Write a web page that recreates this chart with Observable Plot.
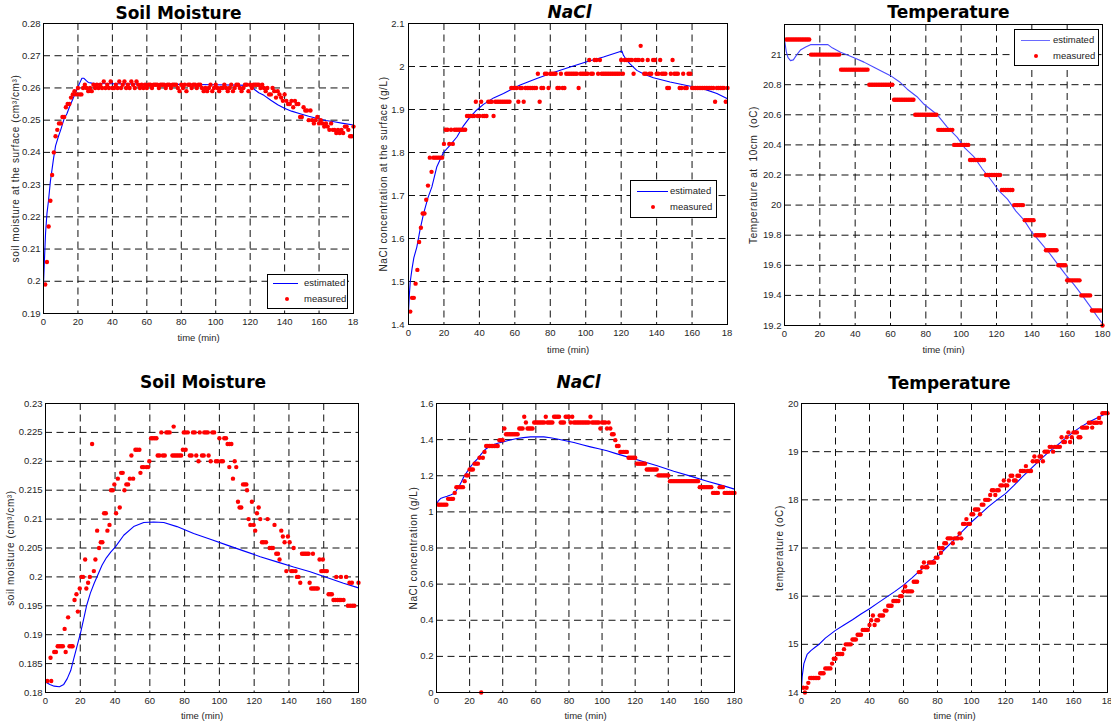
<!DOCTYPE html>
<html><head><meta charset="utf-8">
<script src="https://cdn.jsdelivr.net/npm/d3@7"></script>
<script src="https://cdn.jsdelivr.net/npm/@observablehq/plot@0.6"></script>
<style>
html,body{margin:0;padding:0;background:#fff;}
#root{position:relative;width:1111px;height:727px;overflow:hidden;background:#fff;font-family:"Liberation Sans",Arial,sans-serif;}
.pan{position:absolute;}
.pan svg{display:block;max-width:none;overflow:visible;}
.leg{position:absolute;box-sizing:border-box;border:1.5px solid #000;background:#fff;font-size:9.5px;color:#222;}
.leg .ln{position:absolute;height:1px;}
.leg .dt{position:absolute;width:4.6px;height:4.6px;border-radius:50%;background:#f00;}
.leg .tx{position:absolute;line-height:10px;white-space:nowrap;}
</style></head>
<body><div id="root"></div>
<script>
// ---------- shared axis values ----------
const minutes = [
1,2,3,4,5,6,7,8,9,10,11,12,13,14,15,16,17,18,19,20,
21,22,23,24,25,26,27,28,29,30,31,32,33,34,35,36,37,38,39,40,
41,42,43,44,45,46,47,48,49,50,51,52,53,54,55,56,57,58,59,60,
61,62,63,64,65,66,67,68,69,70,71,72,73,74,75,76,77,78,79,80,
81,82,83,84,85,86,87,88,89,90,91,92,93,94,95,96,97,98,99,100,
101,102,103,104,105,106,107,108,109,110,111,112,113,114,115,116,117,118,119,120,
121,122,123,124,125,126,127,128,129,130,131,132,133,134,135,136,137,138,139,140,
141,142,143,144,145,146,147,148,149,150,151,152,153,154,155,156,157,158,159,160,
161,162,163,164,165,166,167,168,169,170,171,172,173,174,175,176,177,178,179,180];
const timeTicks = [0,20,40,60,80,100,120,140,160,180];
const truncatedLastTick = "18"; // the last time label reads "18" in panels cut at the right

// ---------- top-left: soil moisture ----------
const soilTopTicks = [0.19,0.2,0.21,0.22,0.23,0.24,0.25,0.26,0.27,0.28];
const soilTopMeasured = [
0.199,0.206,0.217,0.225,0.233,0.240,0.245,0.247,0.249,0.249,
0.251,0.251,0.254,0.255,0.255,0.257,0.258,0.259,0.258,0.260,
0.258,0.258,0.260,0.261,0.260,0.259,0.260,0.259,0.261,0.260,
0.261,0.260,0.261,0.260,0.262,0.260,0.261,0.260,0.262,0.260,
0.260,0.261,0.260,0.262,0.260,0.261,0.262,0.260,0.261,0.260,
0.262,0.261,0.260,0.262,0.261,0.260,0.261,0.260,0.261,0.260,
0.261,0.261,0.260,0.261,0.261,0.261,0.260,0.261,0.261,0.261,
0.260,0.261,0.261,0.260,0.261,0.261,0.261,0.260,0.259,0.261,
0.260,0.261,0.259,0.261,0.261,0.260,0.261,0.261,0.260,0.261,
0.261,0.260,0.259,0.260,0.259,0.260,0.261,0.259,0.260,0.261,
0.260,0.259,0.260,0.260,0.261,0.260,0.259,0.260,0.261,0.259,
0.260,0.261,0.261,0.260,0.259,0.260,0.261,0.261,0.259,0.261,
0.260,0.261,0.261,0.261,0.261,0.260,0.261,0.260,0.259,0.260,
0.258,0.258,0.260,0.259,0.257,0.259,0.258,0.257,0.256,0.258,
0.256,0.255,0.255,0.256,0.254,0.256,0.255,0.255,0.251,0.251,
0.254,0.253,0.253,0.250,0.253,0.250,0.249,0.250,0.251,0.249,
0.250,0.249,0.248,0.249,0.248,0.247,0.249,0.247,0.247,0.246,
0.247,0.246,0.247,0.246,0.248,0.248,0.247,0.245,0.245,0.248];
const soilTopEstimated = [
[0,0.199],[0.5,0.206],[1.2,0.215],[2,0.221],[2.9,0.225],[4,0.231],[5.8,0.238],[7,0.242],[8.7,0.245],[10,0.247],
[12,0.2505],[13.6,0.252],[15,0.254],[17,0.2565],[19.4,0.2595],[21,0.2615],[22.3,0.263],[23.5,0.263],[25,0.2622],[26,0.2617],
[28,0.2615],[30,0.2614],[40,0.2613],[60,0.2612],[80,0.2611],[100,0.261],[120,0.2608],[121,0.2606],[122.5,0.2595],[125,0.2585],
[128,0.2577],[132,0.2562],[136,0.2548],[139.6,0.2538],[144,0.2528],[149,0.252],[154,0.2512],[159,0.2505],[164,0.2499],[168.7,0.2495],
[174,0.249],[180,0.2485]];

// ---------- top-middle: NaCl ----------
const naclTopTicks = [1.4,1.5,1.6,1.7,1.8,1.9,2,2.1];
const naclTopMeasured = [
1.430,1.462,1.462,1.495,1.527,1.592,1.625,1.658,1.658,1.690,
1.723,1.788,1.755,1.788,1.788,1.788,1.788,1.788,1.788,1.820,
1.853,1.853,1.820,1.853,1.820,1.853,1.853,1.853,1.853,1.853,
1.853,1.853,1.885,1.885,1.885,1.885,1.885,1.918,1.885,1.885,
1.918,1.885,1.885,1.885,1.918,1.918,1.918,1.885,1.918,1.918,
1.918,1.918,1.918,1.918,1.918,1.918,1.918,1.950,1.950,1.950,
1.950,1.918,1.950,1.950,1.918,1.950,1.950,1.950,1.950,1.950,
1.950,1.950,1.983,1.918,1.950,1.950,1.983,1.983,1.950,1.983,
1.983,1.983,1.983,1.950,1.950,1.983,1.950,1.950,1.983,1.983,
1.983,1.983,1.983,1.983,1.983,1.950,1.983,1.983,1.983,1.983,
1.983,2.015,1.983,1.983,2.015,2.015,1.983,2.015,1.983,1.983,
1.983,1.983,1.983,1.983,1.983,1.983,1.983,1.983,1.983,2.015,
1.983,2.015,2.015,2.015,2.015,2.015,1.983,2.015,2.015,2.015,
2.048,2.015,1.983,1.983,2.015,1.983,1.983,2.015,2.015,1.983,
1.983,2.015,1.983,1.983,1.983,1.950,1.950,1.983,2.015,1.983,
1.983,1.983,1.950,1.950,1.983,1.950,1.950,1.983,1.983,1.950,
1.950,1.950,1.950,1.950,1.950,1.950,1.950,1.950,1.950,1.950,
1.950,1.950,1.918,1.950,1.950,1.950,1.950,1.950,1.918,1.950];
const naclTopEstimated = [
[0,1.43],[0.5,1.47],[1,1.50],[2,1.53],[3,1.555],[4.7,1.58],[6.5,1.62],[8.5,1.658],[11,1.695],[13.2,1.72],
[16,1.767],[19.7,1.80],[23,1.815],[27.3,1.836],[31,1.862],[34.8,1.883],[38,1.897],[42.3,1.912],[48,1.927],[53.6,1.937],
[59,1.949],[63,1.957],[72.4,1.972],[81.8,1.986],[91.2,1.999],[100.6,2.011],[110,2.022],[120.4,2.036],[121.3,2.026],[123,2.015],
[125,2.006],[128.8,1.991],[133,1.982],[138.2,1.974],[147.6,1.964],[157,1.956],[166.4,1.948],[174,1.937],[180,1.925]];

// ---------- top-right: temperature ----------
const tempTopTicks = [19.2,19.4,19.6,19.8,20,20.2,20.4,20.6,20.8,21];
const tempTopMeasured = [
21.1,21.1,21.1,21.1,21.1,21.1,21.1,21.1,21.1,21.1,
21.1,21.1,21.1,21.1,21.0,21.0,21.0,21.0,21.0,21.0,
21.0,21.0,21.0,21.0,21.0,21.0,21.0,21.0,21.0,21.0,
21.0,20.9,20.9,20.9,20.9,20.9,20.9,20.9,20.9,20.9,
20.9,20.9,20.9,20.9,20.9,20.9,20.9,20.8,20.8,20.8,
20.8,20.8,20.8,20.8,20.8,20.8,20.8,20.8,20.8,20.8,
20.8,20.7,20.7,20.7,20.7,20.7,20.7,20.7,20.7,20.7,
20.7,20.7,20.7,20.6,20.6,20.6,20.6,20.6,20.6,20.6,
20.6,20.6,20.6,20.6,20.6,20.6,20.5,20.5,20.5,20.5,
20.5,20.5,20.5,20.5,20.5,20.4,20.4,20.4,20.4,20.4,
20.4,20.4,20.4,20.4,20.3,20.3,20.3,20.3,20.3,20.3,
20.3,20.3,20.3,20.2,20.2,20.2,20.2,20.2,20.2,20.2,
20.2,20.2,20.1,20.1,20.1,20.1,20.1,20.1,20.1,20.0,
20.0,20.0,20.0,20.0,20.0,19.9,19.9,19.9,19.9,19.9,
19.9,19.8,19.8,19.8,19.8,19.8,19.8,19.7,19.7,19.7,
19.7,19.7,19.7,19.7,19.6,19.6,19.6,19.6,19.6,19.5,
19.5,19.5,19.5,19.5,19.5,19.5,19.5,19.4,19.4,19.4,
19.4,19.4,19.4,19.3,19.3,19.3,19.3,19.3,19.3,19.2];
const tempTopEstimated = [
[0,21.1],[1,21.02],[2,20.98],[3.4,20.96],[5,20.965],[7,21.0],[9,21.03],[12,21.05],[14.7,21.066],[20,21.067],
[24.6,21.066],[27,21.045],[31.7,21.015],[36,20.995],[41,20.971],[45,20.95],[50.6,20.916],[55,20.89],[60,20.86],[65,20.82],
[69.5,20.77],[75,20.72],[79,20.67],[86.5,20.6],[92,20.52],[97.8,20.45],[102,20.38],[107.3,20.32],[112,20.24],[116.7,20.17],
[121,20.1],[126.2,20.04],[131,19.96],[135.6,19.9],[140,19.82],[145,19.75],[150,19.68],[154.5,19.61],[159,19.54],[164,19.47],
[168.5,19.4],[173.4,19.32],[177,19.26],[179.5,19.22]];

// ---------- bottom-left: soil moisture ----------
const soilBottomTicks = [0.18,0.185,0.19,0.195,0.2,0.205,0.21,0.215,0.22,0.225,0.23];
const soilBottomMeasured = [
[1,0.182],[2.9,0.186],[3.3,0.182],[5,0.187],[6,0.187],[7,0.188],[8,0.188],[9,0.188],[10,0.188],
[11,0.191],[11.6,0.187],[13,0.193],[13.8,0.188],[14.8,0.188],[15.6,0.188],[16.7,0.196],[17.8,0.197],[18.6,0.194],[19.7,0.198],
[20.7,0.200],[21.6,0.200],[22.8,0.203],[23.5,0.198],[24.5,0.199],[25.5,0.200],[26.8,0.223],[27.8,0.201],[28.7,0.203],[29.7,0.208],
[30.8,0.205],[31.8,0.206],[32.7,0.206],[33.7,0.211],[34.7,0.211],[35.6,0.208],[36.8,0.209],[37.7,0.215],[38.7,0.215],[39.6,0.216],
[40.6,0.211],[41.6,0.217],[42.7,0.212],[43.5,0.218],[44.4,0.218],[45.4,0.215],[46.5,0.216],[47.5,0.216],[48.5,0.217],[49.4,0.221],[50.4,0.217],
[51.7,0.222],[52.7,0.222],[54,0.222],[54.6,0.218],[55.5,0.219],[56.5,0.219],[58,0.219],[59,0.219],[59.7,0.220],
[60.7,0.224],[61.7,0.224],[62.8,0.224],[63.8,0.224],[64.5,0.221],[65.5,0.221],[66.6,0.225],[67.5,0.221],[68.6,0.221],[69.5,0.225],[70.4,0.225],[71.4,0.225],
[73,0.221],[73.7,0.226],[74,0.221],[75,0.221],[76,0.221],[77,0.221],[78,0.221],[79,0.222],[79.5,0.225],[80.4,0.225],[80.6,0.222],[81.8,0.225],
[83,0.221],[84,0.221],[84.8,0.225],[85.8,0.225],[86.7,0.221],[88,0.220],[88.7,0.225],[90,0.221],[91,0.221],[91.3,0.225],[92.3,0.225],[93.3,0.225],[93.8,0.221],[95,0.220],
[96,0.225],[97,0.225],[98,0.220],[99,0.220],[100,0.224],[101,0.220],[102,0.220],[102.8,0.224],[103.8,0.224],[104.7,0.223],[105.7,0.219],[105.8,0.223],[106.9,0.223],[107.8,0.217],[108.8,0.220],[109.7,0.219],
[110.7,0.213],[111.6,0.212],[112.6,0.212],[113.6,0.216],[114.6,0.216],[115.5,0.216],[115.9,0.215],[116.8,0.210],[117.8,0.209],[118.7,0.213],[119.7,0.209],
[120.6,0.208],[121.6,0.211],[122.6,0.212],[123.5,0.210],[124.5,0.206],[125.5,0.206],[126.8,0.206],[127.7,0.210],[128.9,0.205],[129.9,0.205],[130.8,0.205],
[131.7,0.209],[132.7,0.204],[133.7,0.204],[134.6,0.203],[135.6,0.208],[136.5,0.207],[137.5,0.206],[138.5,0.201],[139.4,0.207],[140.4,0.206],
[141.3,0.201],[142.3,0.201],[142.7,0.205],[143.8,0.201],[144.6,0.200],[145.5,0.200],[146.5,0.199],[147.5,0.204],[148.5,0.204],[149.4,0.204],[150.4,0.204],[151.3,0.204],
[151.9,0.199],[152.8,0.198],[153.8,0.198],[153.8,0.204],[154.7,0.198],[155.7,0.198],[156.6,0.198],[157.6,0.203],[158.6,0.201],[159.5,0.203],[159.5,0.201],[160.6,0.201],[161.8,0.201],
[162.8,0.197],[163.8,0.197],[164.7,0.197],[165.6,0.196],[166.6,0.196],[167.2,0.200],[167.9,0.196],[168.9,0.196],[169.9,0.196],[169.9,0.200],[171.4,0.196],[172.9,0.200],
[173.9,0.195],[174.8,0.199],[175.2,0.195],[176.2,0.199],[176.5,0.195],[177.6,0.195],[180,0.199]];
const soilBottomEstimated = [
[0,0.1818],[2.5,0.1814],[5,0.1811],[8,0.181],[10.5,0.1814],[12.5,0.1824],[14.5,0.1838],[16.3,0.1859],[18.3,0.1882],[20.3,0.1905],
[22,0.1928],[23.7,0.1951],[25.8,0.1972],[28,0.1989],[30,0.2003],[32.5,0.202],[35,0.2033],[37.5,0.2043],[40.2,0.2052],[45,0.2072],
[50.7,0.2087],[56.5,0.2094],[62.2,0.2095],[68,0.2094],[75.6,0.2087],[85.2,0.2075],[94.8,0.2065],[104.4,0.2055],[113.9,0.2045],[123.5,0.2035],
[133.1,0.2026],[142.7,0.2017],[152.2,0.2009],[161.8,0.1999],[171.4,0.1989],[180,0.1981]];

// ---------- bottom-middle: NaCl ----------
const naclBottomTicks = [0,0.2,0.4,0.6,0.8,1,1.2,1.4,1.6];
const naclBottomMeasured = [
1.040,1.040,1.040,1.040,1.040,1.040,1.072,1.072,1.072,1.072,
1.105,1.137,1.137,1.137,1.137,1.137,1.170,1.202,1.202,1.235,
1.235,1.235,1.267,1.267,1.267,1.300,0,1.300,1.332,1.365,
1.365,1.365,1.365,1.365,1.365,1.365,1.365,1.397,1.397,1.397,
1.462,1.430,1.430,1.430,1.430,1.430,1.430,1.430,1.430,1.462,
1.462,1.462,1.527,1.495,1.462,1.462,1.462,1.462,1.495,1.495,
1.495,1.495,1.495,1.495,1.495,1.527,1.495,1.495,1.495,1.495,
1.527,1.527,1.527,1.527,1.495,1.495,1.495,1.527,1.527,1.527,
1.495,1.527,1.495,1.495,1.495,1.495,1.495,1.495,1.495,1.495,
1.495,1.495,1.527,1.495,1.495,1.495,1.495,1.495,1.462,1.495,
1.495,1.495,1.462,1.495,1.462,1.430,1.430,1.397,1.365,1.365,
1.332,1.332,1.332,1.332,1.332,1.300,1.300,1.300,1.300,1.300,
1.267,1.267,1.267,1.267,1.267,1.267,1.235,1.235,1.235,1.235,
1.235,1.235,1.235,1.202,1.202,1.202,1.202,1.202,1.202,1.202,
1.170,1.170,1.170,1.170,1.170,1.170,1.170,1.170,1.170,1.170,
1.170,1.170,1.170,1.170,1.170,1.170,1.170,1.170,1.137,1.137,
1.137,1.137,1.137,1.137,1.137,1.137,1.105,1.105,1.105,1.105,
1.137,1.137,1.137,1.105,1.105,1.105,1.105,1.105,1.105,1.105];
const naclBottomEstimated = [
[0,1.04],[1,1.06],[2.4,1.074],[4,1.08],[6.4,1.087],[8.5,1.094],[10.5,1.102],[12,1.118],[13.5,1.139],[15,1.165],
[16.5,1.194],[18.5,1.222],[20.5,1.249],[22.5,1.272],[24.6,1.292],[27,1.32],[29.6,1.347],[32,1.362],[34.6,1.373],[37.5,1.381],
[40.7,1.388],[44.5,1.398],[48.7,1.406],[52.5,1.411],[56.8,1.415],[60.8,1.416],[64.8,1.415],[68.8,1.41],[72.9,1.403],[78,1.394],
[83,1.384],[88,1.372],[93,1.36],[98,1.349],[103,1.338],[108,1.324],[113.2,1.31],[123.2,1.283],[133.3,1.255],[143.3,1.225],
[153.4,1.198],[163.5,1.17],[173.5,1.144],[180,1.126]];

// ---------- bottom-right: temperature ----------
const tempBottomTicks = [14,15,16,17,18,19,20];
const tempBottomMeasured = [
14.1,14.0,14.1,14.2,14.3,14.3,14.3,14.3,14.3,14.3,
14.4,14.4,14.4,14.5,14.5,14.5,14.5,14.6,14.7,14.7,
14.8,14.8,14.8,14.8,14.9,15.0,15.0,15.0,15.0,15.1,
15.1,15.1,15.2,15.2,15.2,15.3,15.3,15.3,15.3,15.4,
15.5,15.6,15.4,15.5,15.5,15.6,15.6,15.6,15.7,15.7,
15.8,15.8,15.8,15.9,15.9,15.9,15.9,16.0,16.0,16.1,
16.2,16.1,16.1,16.1,16.1,16.3,16.3,16.3,16.5,16.5,
16.6,16.7,16.6,16.6,16.7,16.7,16.7,16.7,16.8,16.8,
17.0,16.9,17.0,17.1,17.1,17.2,17.2,17.2,17.1,17.2,
17.2,17.2,17.3,17.2,17.5,17.5,17.6,17.5,17.5,17.7,
17.7,17.8,17.8,17.8,17.7,17.9,17.9,18.0,18.0,18.0,
18.1,18.2,18.2,18.1,18.2,18.2,18.3,18.3,18.4,18.3,
18.3,18.4,18.5,18.5,18.4,18.4,18.5,18.5,18.6,18.6,
18.6,18.7,18.6,18.6,18.6,18.8,18.9,18.8,18.8,18.9,
18.9,18.8,19.0,19.0,19.0,19.1,19.1,19.0,19.1,19.1,
19.1,19.1,19.3,19.2,19.2,19.3,19.4,19.2,19.3,19.4,
19.4,19.4,19.3,19.3,19.5,19.5,19.5,19.5,19.6,19.6,
19.5,19.6,19.6,19.6,19.7,19.6,19.8,19.8,19.8,19.8];
const tempBottomEstimated = [
[0,14.1],[0.4,14.33],[1.4,14.6],[3.3,14.79],[5.5,14.87],[8,14.94],[10,14.99],[14,15.13],[20,15.29],[25,15.4],
[30,15.51],[35,15.63],[40,15.74],[45,15.86],[50,15.98],[55,16.1],[60,16.23],[65,16.38],[70,16.54],[75,16.68],
[80,16.82],[85,17.0],[90,17.18],[95,17.36],[100,17.54],[105,17.7],[110,17.86],[115,18.0],[120,18.13],[125,18.3],
[130,18.48],[135,18.65],[140,18.82],[145,18.98],[150,19.12],[155,19.27],[160,19.41],[165,19.53],[170,19.63],[175,19.72],
[180,19.81]];

// ---------- rendering ----------
const root = document.getElementById("root");
const fmtNum = v => String(+v.toFixed(4));
const perMinute = vals => minutes.map((t, i) => ({t, v: vals[i]}));
const pairs = arr => arr.map(([t, v]) => ({t, v}));

function panel(c) {
  const yGrid = c.yTicks.filter(v => v > c.yDomain[0] + 1e-9 && v < c.yDomain[1] - 1e-9);
  const xGrid = timeTicks.filter(t => t > 0 && t < 180);
  const xLabelTicks = c.cutLast ? timeTicks.slice(0, -1) : timeTicks;
  const marks = [
    Plot.gridX({ticks: xGrid, stroke: "#111", strokeOpacity: 1, strokeWidth: 1, strokeDasharray: "7,4.5"}),
    Plot.gridY({ticks: yGrid, stroke: "#111", strokeOpacity: 1, strokeWidth: 1, strokeDasharray: "7,4.5"}),
    Plot.line(c.est, {x: d => d[0], y: d => d[1], stroke: c.estColor, strokeWidth: 1.1}),
    Plot.dot(c.meas, {x: "t", y: "v", r: 2.2, fill: "#ff0000", stroke: "none"}),
    Plot.frame({stroke: "#000", strokeWidth: 1}),
    Plot.axisX({ticks: xLabelTicks, tickSize: 0, tickPadding: 5, tickFormat: fmtNum, label: null}),
    Plot.axisY({ticks: c.yTicks, tickSize: 0, tickPadding: c.yPad || 3, tickFormat: fmtNum, label: null}),
    Plot.text([c.title], {frameAnchor: "top", textAnchor: "middle", lineAnchor: "middle", dx: c.tDx, dy: c.tDy,
      fontSize: 17, fontWeight: "bold", fontStyle: c.italic ? "italic" : "normal", fontFamily: '"DejaVu Sans", sans-serif', fill: "#000"}),
    Plot.text([c.ylabel], {frameAnchor: "left", textAnchor: "middle", lineAnchor: "middle", rotate: -90, dx: c.yLabDx, fontSize: 10, fill: "#262626"}),
    Plot.text(["time (min)"], {frameAnchor: "bottom", textAnchor: "middle", lineAnchor: "middle", dy: c.xLabDy, fontSize: 9.5, fill: "#262626"})
  ];
  if (c.cutLast) {
    marks.push(Plot.text([timeTicks[timeTicks.length - 1]], {x: d => d, frameAnchor: "bottom", text: () => truncatedLastTick,
      textAnchor: "start", lineAnchor: "top", dx: -5.8, dy: 5, fill: "#262626"}));
  }
  const chart = Plot.plot({
    width: c.w, height: c.h,
    marginLeft: c.mL, marginRight: c.mR, marginTop: c.mT, marginBottom: c.mB,
    style: {fontFamily: '"Liberation Sans", Arial, sans-serif', fontSize: "9.5px", color: "#262626", background: "transparent"},
    x: {domain: [0, 180]},
    y: {domain: c.yDomain},
    marks
  });
  d3.select(chart).selectAll("text").filter(function() { return this.textContent === c.ylabel; })
    .style("letter-spacing", "0.6px");
  const div = document.createElement("div");
  div.className = "pan";
  div.style.left = c.left + "px"; div.style.top = c.top + "px";
  div.style.width = c.w + "px"; div.style.height = c.h + "px";
  div.appendChild(chart);
  root.appendChild(div);
}

function legend(l) {
  const box = document.createElement("div");
  box.className = "leg";
  Object.assign(box.style, {left: l.x + "px", top: l.y + "px", width: l.w + "px", height: l.h + "px"});
  box.innerHTML =
    `<div class="ln" style="left:${l.lx1}px;width:${l.lx2 - l.lx1}px;top:${l.r1 - 1}px;background:${l.color}"></div>` +
    `<div class="tx" style="left:${l.tx}px;top:${l.r1 - 6}px">estimated</div>` +
    `<div class="dt" style="left:${l.dx - 2.3}px;top:${l.r2 - 3.3}px"></div>` +
    `<div class="tx" style="left:${l.tx}px;top:${l.r2 - 6}px">measured</div>`;
  root.appendChild(box);
}

panel({left: 0, top: 0, w: 370, h: 350, mL: 43, mR: 17, mT: 23, mB: 37, cutLast: true,
  yDomain: [0.19, 0.28], yTicks: soilTopTicks, est: soilTopEstimated, meas: perMinute(soilTopMeasured),
  estColor: "#0000ff", title: "Soil Moisture", tDx: -20, tDy: -10,
  ylabel: "soil moisture at the surface (cm³/cm³)", yLabDx: -28, xLabDy: 24.5});
panel({left: 370, top: 0, w: 370, h: 360, mL: 38, mR: 13, mT: 23, mB: 36, yPad: 4, cutLast: true,
  yDomain: [1.4, 2.1], yTicks: naclTopTicks, est: naclTopEstimated, meas: perMinute(naclTopMeasured),
  estColor: "#0000ff", title: "NaCl", italic: true, tDx: 1.5, tDy: -11,
  ylabel: "NaCl concentration at the surface (g/L)", yLabDx: -25, xLabDy: 25.3});
panel({left: 740, top: 0, w: 371, h: 360, mL: 44, mR: 9, mT: 24, mB: 35,
  yDomain: [19.2, 21.2], yTicks: tempTopTicks, est: tempTopEstimated, meas: perMinute(tempTopMeasured),
  estColor: "#4848ff", title: "Temperature", tDx: 5, tDy: -11.5,
  ylabel: "Temperature at  10cm  (oC)", yLabDx: -31, xLabDy: 24.3});
panel({left: 0, top: 365, w: 390, h: 362, mL: 45, mR: 32, mT: 38, mB: 35,
  yDomain: [0.18, 0.23], yTicks: soilBottomTicks, est: soilBottomEstimated, meas: pairs(soilBottomMeasured),
  estColor: "#0000ff", title: "Soil Moisture", tDx: 1, tDy: -20.5,
  ylabel: "soil moisture (cm³/cm³)", yLabDx: -35, xLabDy: 23.4});
panel({left: 390, top: 365, w: 380, h: 362, mL: 46, mR: 36, mT: 38, mB: 35,
  yDomain: [0, 1.6], yTicks: naclBottomTicks, est: naclBottomEstimated, meas: perMinute(naclBottomMeasured),
  estColor: "#0000ff", title: "NaCl", italic: true, tDx: -7, tDy: -20.5,
  ylabel: "NaCl concentration (g/L)", yLabDx: -23, xLabDy: 23.4});
panel({left: 760, top: 365, w: 351, h: 362, mL: 41, mR: 4, mT: 38, mB: 35, cutLast: true,
  yDomain: [14, 20], yTicks: tempBottomTicks, est: tempBottomEstimated, meas: perMinute(tempBottomMeasured),
  estColor: "#0000ff", title: "Temperature", tDx: -5, tDy: -20,
  ylabel: "temperature (oC)", yLabDx: -22, xLabDy: 23.4});

legend({x: 267, y: 274, w: 81, h: 35, lx1: 5, lx2: 30, tx: 36, dx: 19, r1: 9, r2: 25, color: "#0000ff"});
legend({x: 630, y: 180, w: 87, h: 38, lx1: 6, lx2: 37, tx: 39, dx: 22, r1: 11, r2: 27, color: "#0000ff"});
legend({x: 1014, y: 29, w: 85, h: 37, lx1: 6, lx2: 35, tx: 38, dx: 21, r1: 11, r2: 27, color: "#6a6aff"});
</script>
</body></html>
